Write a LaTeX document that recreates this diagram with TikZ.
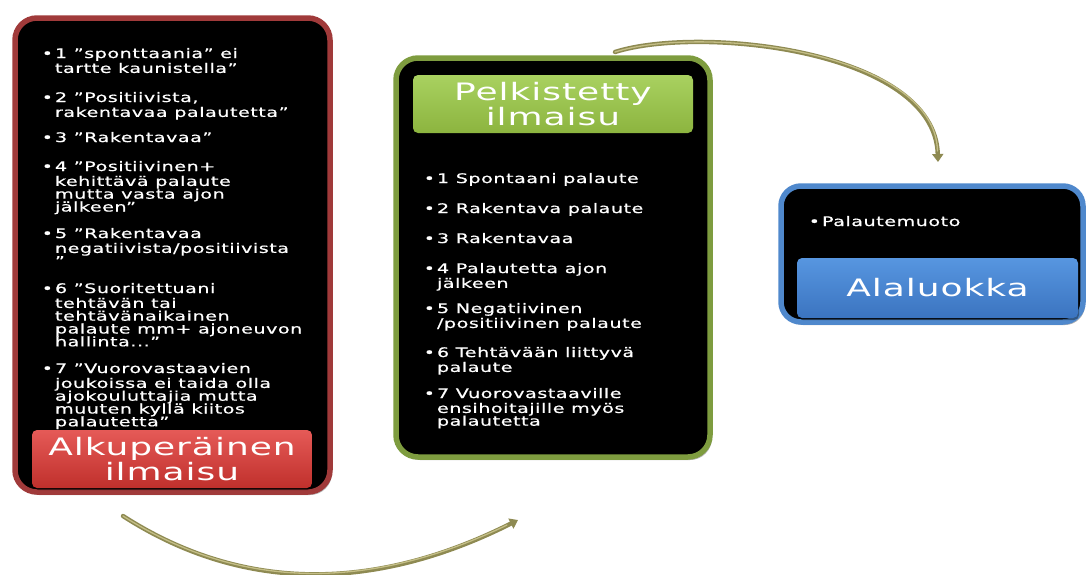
\documentclass[tikz,border=0pt]{standalone}
\usepackage{fontspec}
\usetikzlibrary{arrows.meta,shadows}
\newfontfamily\itf[FakeStretch=1.45,LetterSpace=4,FakeBold=0.6]{DejaVu Sans}
\newfontfamily\tif[FakeStretch=1.5,LetterSpace=4]{DejaVu Sans}
\definecolor{redborder}{HTML}{A03A3A}
\definecolor{redtop}{HTML}{E55A57}
\definecolor{redbot}{HTML}{C0302C}
\definecolor{greenborder}{HTML}{7E9C3F}
\definecolor{greentop}{HTML}{A9D160}
\definecolor{greenbot}{HTML}{8CB43F}
\definecolor{blueborder}{HTML}{4F88CC}
\definecolor{bluetop}{HTML}{5796E0}
\definecolor{bluebot}{HTML}{3B74C0}
\definecolor{olive}{HTML}{8E8A52}
\definecolor{olivelight}{HTML}{C4BE86}
\tikzset{
  bigbox/.style={draw, line width=5.5pt, fill=black, rounded corners=22pt, inner sep=0pt, outer sep=0pt,
    drop shadow={shadow xshift=2pt, shadow yshift=-3pt, opacity=0.3, fill=black}},
  titlebox/.style={rounded corners=5pt, text=white, align=center, inner sep=0pt, outer sep=0pt,
    font={\tif\fontsize{24}{23}\selectfont},
    drop shadow={shadow xshift=1pt, shadow yshift=-2pt, opacity=0.35, fill=black}},
  itemtxt/.style={anchor=north west, inner sep=0pt, outer sep=0pt, align=left, text=white,
    font={\itf\fontsize{13.2}{12.8}\selectfont}},
  curvearrow/.style={line width=4.4pt, draw=olive, line cap=round, -{Triangle[length=8pt,width=11pt]}},
  curvehl/.style={line width=1.3pt, draw=olivelight, line cap=round}
}
\newcommand{\bul}{\llap{\strut•\hspace{2pt}}}
\begin{document}
\begin{tikzpicture}[x=1pt,y=-1pt]
\useasboundingbox (0,0) rectangle (1087,574);

% boxes
\node[bigbox, draw=redborder, minimum width=315pt, minimum height=474pt] (redbox) at (172.5,255) {};
\node[bigbox, draw=greenborder, minimum width=314pt, minimum height=399pt] (greenbox) at (553,257.5) {};
\node[bigbox, draw=blueborder, rounded corners=20pt, minimum width=302pt, minimum height=136pt] (bluebox) at (932,254) {};

% title labels
\node[titlebox, top color=redtop, bottom color=redbot, minimum width=280pt, minimum height=58pt] (redlabel) at (172,459) {Alkuperäinen\\ilmaisu};
\node[titlebox, top color=greentop, bottom color=greenbot, minimum width=280pt, minimum height=58pt] (greenlabel) at (553,104) {Pelkistetty\\ilmaisu};
\node[titlebox, top color=bluetop, bottom color=bluebot, minimum width=281pt, minimum height=60pt] (bluelabel) at (937.5,288) {Alaluokka};

% left items
\node[itemtxt] (l1) at (55,48) {\bul1 ”sponttaania” ei\\tartte kaunistella”};
\node[itemtxt] (l2) at (55,92) {\bul2 ”Positiivista,\\rakentavaa palautetta”};
\node[itemtxt] (l3) at (55,132) {\bul3 ”Rakentavaa”};
\node[itemtxt] (l4) at (55,161) {\bul4 ”Positiivinen+\\kehittävä palaute\\mutta vasta ajon\\jälkeen”};
\node[itemtxt] (l5) at (55,228) {\bul5 ”Rakentavaa\\negatiivista/positiivista\\”};
\node[itemtxt] (l6) at (55,283) {\bul6 ”Suoritettuani\\tehtävän tai\\tehtävänaikainen\\palaute mm+ ajoneuvon\\hallinta...”};
\node[itemtxt] (l7) at (55,363) {\bul7 ”Vuorovastaavien\\joukoissa ei taida olla\\ajokouluttajia mutta\\muuten kyllä kiitos\\palautetta”};

% middle items
\node[itemtxt] (m1) at (437,173) {\bul1 Spontaani palaute};
\node[itemtxt] (m2) at (437,203) {\bul2 Rakentava palaute};
\node[itemtxt] (m3) at (437,233) {\bul3 Rakentavaa};
\node[itemtxt] (m4) at (437,263) {\bul4 Palautetta ajon\\jälkeen};
\node[itemtxt] (m5) at (437,303) {\bul5 Negatiivinen\\/positiivinen palaute};
\node[itemtxt] (m6) at (437,347) {\bul6 Tehtävään liittyvä\\palaute};
\node[itemtxt] (m7) at (437,388) {\bul7 Vuorovastaaville\\ensihoitajille myös\\palautetta};

% right item
\node[itemtxt] (r1) at (822,216) {\bul Palautemuoto};

% arrows
\coordinate (b1) at (123,516);
\coordinate (b2) at (518,520);
\coordinate (t1) at (615,52);
\coordinate (t2) at (938,162);
\draw[curvearrow] (b1) .. controls (241,592) and (373,593) .. (b2);
\draw[curvehl] (b1) .. controls (241,591) and (370,591) .. (507,525);
\draw[curvearrow] (t1) .. controls (700,25) and (935,50) .. (t2);
\draw[curvehl] (t1) .. controls (700,25) and (935,50) .. (937.5,151);
\end{tikzpicture}
\end{document}
